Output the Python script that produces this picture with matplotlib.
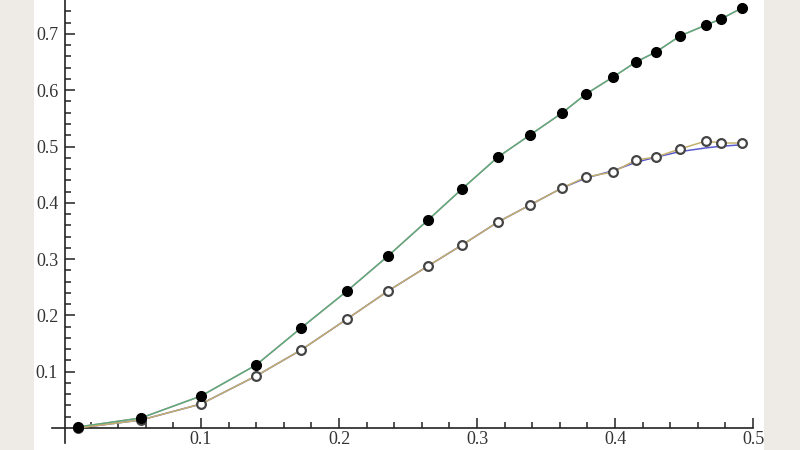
import matplotlib.pyplot as plt
from matplotlib.patches import Rectangle
from matplotlib.ticker import FixedLocator

# values
x_pts = [0.0109, 0.0565, 0.1, 0.1399, 0.1725, 0.2058, 0.2355, 0.2645, 0.2891, 0.3152,
         0.3384, 0.3616, 0.3790, 0.3986, 0.4152, 0.4297, 0.4471, 0.4659, 0.4768, 0.4920]
y_filled = [0.0018, 0.0178, 0.0568, 0.1119, 0.1776, 0.2433, 0.3055, 0.3694, 0.4245, 0.4813,
            0.5204, 0.5595, 0.5933, 0.6234, 0.6501, 0.6679, 0.6963, 0.7158, 0.7265, 0.7460]
y_open = [0.0, 0.0142, 0.0426, 0.0924, 0.1385, 0.1936, 0.2433, 0.2877, 0.3250, 0.3659,
          0.3961, 0.4263, 0.4458, 0.4547, 0.4760, 0.4813, 0.4956, 0.5098, 0.5062, 0.5062]
# smooth fit under the open points (blue), only differs near the end
fit_x = [0.0109, 0.0565, 0.1, 0.1399, 0.1725, 0.2058, 0.2355, 0.2645, 0.2891, 0.3152,
         0.3384, 0.3616, 0.3790, 0.3986, 0.4152, 0.4297, 0.4471, 0.4659, 0.4768, 0.4920]
fit_y = [0.0, 0.0142, 0.0426, 0.0924, 0.1385, 0.1936, 0.2433, 0.2877, 0.3250, 0.3659,
         0.3961, 0.4263, 0.4440, 0.4570, 0.4720, 0.4810, 0.4910, 0.4975, 0.5005, 0.5030]

x_ticks = [0.1, 0.2, 0.3, 0.4, 0.5]
y_ticks = [0.1, 0.2, 0.3, 0.4, 0.5, 0.6, 0.7]

fig = plt.figure(figsize=(8, 4.5), dpi=100, facecolor='#eeebe7')
fig.patches.append(Rectangle((34 / 800, 0), 730 / 800, 1, transform=fig.transFigure,
                             facecolor='white', edgecolor='none', zorder=-5))

ax = fig.add_axes([0, 0, 1, 1])
ax.set_facecolor('none')
ax.set_xlim(-63 / 1380, 737 / 1380)
ax.set_ylim(-22 / 563, 428 / 563)

ax.plot(x_pts, y_filled, color='#d39aa6', lw=1.1, zorder=2)
ax.plot(x_pts, y_filled, color='#5caa7c', lw=1.1, zorder=3)
ax.plot(fit_x, fit_y, color='#5a5ad0', lw=1.1, zorder=2)
ax.plot(x_pts, y_open, color='#c4b06c', lw=1.1, zorder=3)
ax.plot(x_pts, y_open, 'o', ms=6.3, mfc='white', mec='#444444', mew=1.6, zorder=4)
ax.plot(x_pts, y_filled, 'o', ms=7, color='black', zorder=5)

for s in ['top', 'right']:
    ax.spines[s].set_visible(False)
ax.spines['left'].set_position(('data', 0.0015))
ax.spines['bottom'].set_position(('data', 0))
ax.spines['left'].set_bounds(-0.027, 0.76)
ax.spines['bottom'].set_bounds(-0.008, 0.5)
for s in ['left', 'bottom']:
    ax.spines[s].set_linewidth(1.2)
    ax.spines[s].set_color('#222222')

ax.set_xticks(x_ticks)
ax.set_yticks(y_ticks)
ax.set_xticklabels([str(v) for v in x_ticks])
ax.set_yticklabels([str(v) for v in y_ticks])
ax.xaxis.set_minor_locator(FixedLocator([i * 0.02 for i in range(1, 25)]))
ax.yaxis.set_minor_locator(FixedLocator([i * 0.02 for i in range(1, 38)]))
ax.tick_params(which='both', direction='in', color='#222222', width=1.1)
ax.tick_params(which='major', length=7, pad=5, labelsize=13, labelcolor='#333333')
ax.tick_params(axis='x', which='major', pad=2)
ax.tick_params(which='minor', length=4)
for lab in ax.get_xticklabels() + ax.get_yticklabels():
    lab.set_family('Liberation Serif')

fig.savefig('out.png', dpi=100, facecolor=fig.get_facecolor())
